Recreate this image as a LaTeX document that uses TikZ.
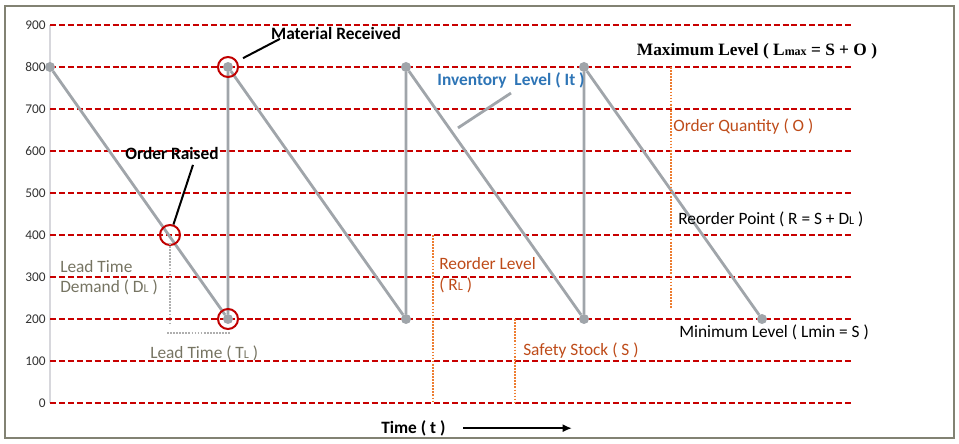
\documentclass[tikz,border=0pt]{standalone}
\usepackage{fontspec}
\setmainfont{Carlito}
\newfontfamily\timesfont{Liberation Serif}
\usetikzlibrary{arrows.meta}
\definecolor{gridred}{RGB}{200,0,0}
\definecolor{ringred}{RGB}{192,0,0}
\definecolor{sawgray}{RGB}{160,165,170}
\definecolor{axisgray}{RGB}{215,215,220}
\definecolor{framegray}{RGB}{130,130,115}
\definecolor{tickgray}{RGB}{50,50,50}
\definecolor{dotorange}{RGB}{237,125,49}
\definecolor{txtorange}{RGB}{190,75,25}
\definecolor{txtblue}{RGB}{46,117,182}
\definecolor{leadgray}{RGB}{118,116,98}
\definecolor{markgray}{RGB}{175,175,175}
\newcommand{\smallidx}[1]{{\fontsize{9}{10}\selectfont #1}}

\begin{document}
\begin{tikzpicture}[
x=0.75pt, y=0.315pt,
dot/.style = {circle, fill=sawgray, minimum size=#1,
            inner sep=0pt, outer sep=0pt},
dot/.default = 7.5pt,  % size of the inventory points
ring/.style = {circle, draw=ringred, line width=1.5pt, minimum size=15pt, inner sep=0pt},
gridline/.style = {gridred, line width=1.1pt, dash pattern=on 4.5pt off 2.2pt},
saw/.style = {sawgray, line width=2.1pt},
tick/.style = {tickgray, font=\fontsize{10}{11}\selectfont, inner sep=0pt},
lbl/.style = {font=\fontsize{13}{15}\selectfont, inner sep=0pt},
levelmark/.style = {dotorange, line width=1.5pt, dash pattern=on 1.3pt off 1pt},
leadmark/.style = {markgray, line width=1.5pt, dash pattern=on 1.3pt off 1pt}
                ]
    \useasboundingbox (-50,-95.24) rectangle (909,959.52);
    \draw[framegray, line width=1.2pt] (-45,-83.3) rectangle (904,945.2);
    \draw[axisgray, line width=1.2pt] (0,0) -- (0,900);
    \foreach \y in {0,100,...,900} {
        \draw[gridline] (0,\y) -- (802,\y);
        \node[tick, anchor=east] at (-4,\y) (t\y) {\y};
    }
    \foreach \x/\y/\v in {0/800/a, 178/200/b, 178/800/c, 356/200/d, 356/800/e, 534/200/f, 534/800/g, 712/200/h}
        \node[dot] at (\x,\y) (\v) {};
    \draw[saw] (a) -- (b) -- (c) -- (d) -- (e) -- (f) -- (g) -- (h);
    \node[ring] at (120,400) (raised) {};
    \node[ring] at (c) (rcvtop) {};
    \node[ring] at (b) (rcvbot) {};
    % dotted markers
    \draw[levelmark] (621,800) -- (621,224);
    \draw[levelmark] (465,200) -- (465,0);
    \draw[levelmark] (383,400) -- (383,0);
    \draw[leadmark] (120,381) -- (120,190);
    \draw[leadmark] (117,167) -- (181,167);
    % callouts
    \node[lbl, font=\fontsize{13}{15}\selectfont\bfseries] at (286,879) (mrcv) {Material Received};
    \coordinate (mrfoot) at (193,821);
    \coordinate (mrtip) at (230,867);
    \draw[black, line width=1.5pt] (mrfoot) -- (mrtip);
    \node[lbl, font=\fontsize{13}{15}\selectfont\bfseries] at (122,593) (oraise) {Order Raised};
    \coordinate (ortip) at (143,567);
    \draw[black, line width=1.5pt] (ortip) -- (raised);
    \node[lbl, txtblue, font=\fontsize{13}{15}\selectfont\bfseries] at (461,767) (inv) {Inventory\ \ Level ( It )};
    \coordinate (invtop) at (461,738);
    \coordinate (invfoot) at (408,655);
    \draw[saw] (invtop) -- (invfoot);
    % level texts
    \node[lbl, font=\fontsize{13}{15}\timesfont\bfseries] at (707,838) (lmax) {Maximum Level ( L\smallidx{max} = S + O )};
    \node[lbl, txtorange, anchor=west] at (623,657) (oqty) {Order Quantity ( O )};
    \node[lbl, anchor=west] at (628,438) (rpt) {Reorder Point ( R = S + D\smallidx{L} )};
    \node[lbl, anchor=west] at (629,167) (lmin) {Minimum Level ( Lmin = S )};
    \node[lbl, txtorange, anchor=west] at (473,124) (sstock) {Safety Stock ( S )};
    \node[lbl, txtorange, anchor=west] at (389,333) (rlvl) {Reorder Level};
    \node[lbl, txtorange, anchor=west] at (389,281) (rlvlb) {( R\smallidx{L} )};
    \node[lbl, leadgray, anchor=west] at (10,326) (ldem) {Lead Time};
    \node[lbl, leadgray, anchor=west] at (10,276) (ldemb) {Demand ( D\smallidx{L} )};
    \node[lbl, leadgray, anchor=west] at (100,119) (ltime) {Lead Time ( T\smallidx{L} )};
    % time axis
    \node[lbl, font=\fontsize{13}{15}\selectfont\bfseries, anchor=west] at (331,-60) (time) {Time ( t )};
    \coordinate (tend) at (522,-60);
    \draw[black, line width=1.5pt, -{Latex[length=7pt,width=6pt]}] (413,-60) -- (tend);
\end{tikzpicture}
\end{document}
